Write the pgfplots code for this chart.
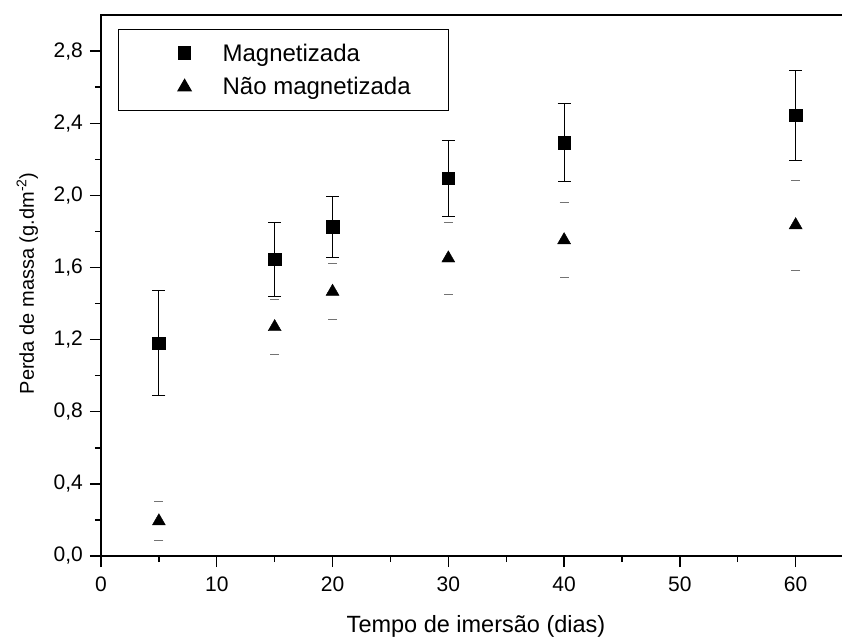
\documentclass[border=0pt]{standalone}
\usepackage{fontspec}
\setmainfont{Liberation Sans}
\usepackage{pgfplots}
\pgfplotsset{compat=1.18}
\begin{document}
\begin{tikzpicture}
\useasboundingbox (-101pt,-82pt) rectangle (741pt,556pt);
\begin{axis}[
    at={(0,0)}, anchor=south west,
    scale only axis,
    width=745.6pt, height=541pt,
    xmin=0, xmax=64.4,
    ymin=0, ymax=3.0,
    xtick={0,10,...,60},
    ytick={0,0.4,...,2.8},
    minor x tick num=1,
    minor y tick num=1,
    tick pos=left,
    tick align=outside,
    major tick length=11pt,
    minor tick length=6pt,
    tick style={line width=1.4pt, black},
    axis line style={line width=1.5pt},
    /pgf/number format/assume math mode=true,
    /pgf/number format/use comma,
    xticklabel={\pgfmathprintnumber{\tick}},
    yticklabel={\pgfmathprintnumber[fixed, fixed zerofill, precision=1]{\tick}},
    yticklabel style={font=\fontsize{21}{25}\selectfont, inner sep=0pt, xshift=-7pt},
    xticklabel style={font=\fontsize{21}{25}\selectfont, inner sep=0pt, yshift=-10pt},
    xlabel={Tempo de imersão (dias)},
    ylabel={Perda de massa (g.dm\textsuperscript{-2})},
    xlabel style={font=\fontsize{23.5}{28}\selectfont, at={(axis description cs:0.503,-0.1405)}, anchor=base},
    ylabel style={font=\fontsize{20}{24}\selectfont, at={(axis description cs:-0.0899,0.504)}, anchor=base},
    legend style={at={(axis description cs:0.0228,0.974)}, anchor=north west,
        draw=black, line width=1.2pt, font=\fontsize{24}{28}\selectfont,
        inner xsep=30pt, inner ysep=13pt, row sep=13pt, column sep=0pt,
        nodes={inner ysep=1pt, inner xsep=8pt}},
    legend cell align=left,
    legend image code/.code={\path (0pt,0pt) (66pt,0pt);
        \draw[#1, draw=none] plot coordinates {(36pt,0pt)};},
]
% Magnetizada
\addplot[draw=none, mark=square*, mark size=6.3pt, mark options={draw=black, fill=black},
    error bars/.cd, y dir=both, y explicit,
    error bar style={line width=1pt, draw=black},
    error mark options={rotate=90, mark size=6.5pt, line width=1pt, draw=black}]
    coordinates {
    (5,1.18) +- (0,0.29)
    (15,1.645) +- (0,0.205)
    (20,1.826) +- (0,0.17)
    (30,2.094) +- (0,0.21)
    (40,2.291) +- (0,0.216)
    (60,2.445) +- (0,0.25)
    };
% Nao magnetizada
\addplot[draw=none, mark=triangle*, mark size=7.5pt, mark options={draw=black, fill=black},
    error bars/.cd, y dir=both, y explicit,
    error bar style={line width=0.8pt, draw opacity=0},
    error mark options={rotate=90, mark size=4.5pt, line width=0.9pt, draw=black!55, draw opacity=1}]
    coordinates {
    (5,0.193) +- (0,0.107)
    (15,1.27) +- (0,0.155)
    (20,1.466) +- (0,0.155)
    (30,1.651) +- (0,0.2)
    (40,1.752) +- (0,0.21)
    (60,1.835) +- (0,0.25)
    };
\legend{Magnetizada, Não magnetizada}
\end{axis}
\end{tikzpicture}
\end{document}
